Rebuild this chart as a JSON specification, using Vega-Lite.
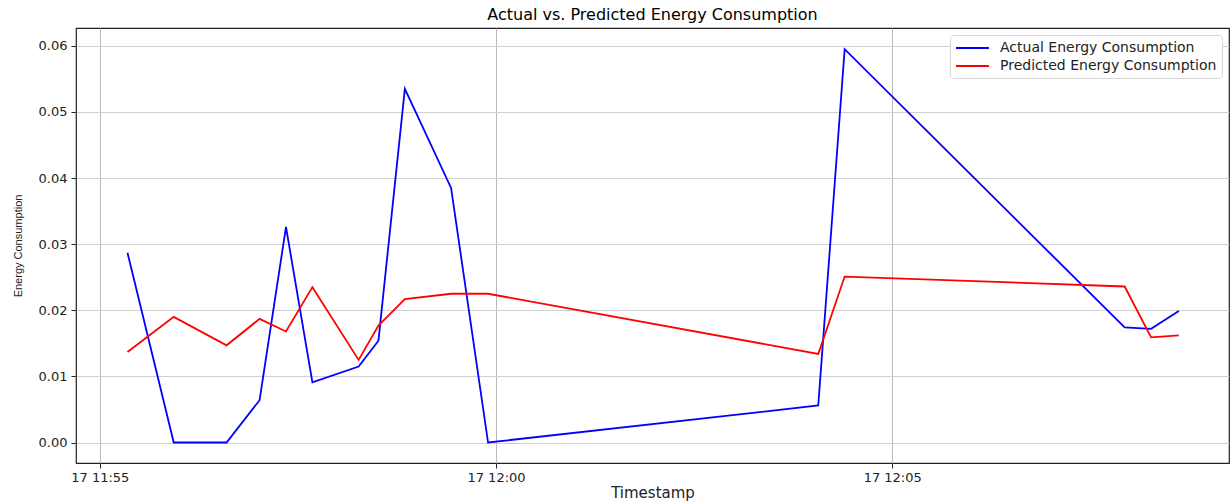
{
  "$schema": "https://vega.github.io/schema/vega-lite/v6.json",
  "autosize": "none",
  "width": 1153,
  "height": 435,
  "padding": {"left": 76, "top": 28, "right": 2, "bottom": 38},
  "background": "white",
  "title": {
    "text": "Actual vs. Predicted Energy Consumption",
    "font": "DejaVu Sans",
    "fontSize": 16,
    "fontWeight": "normal",
    "color": "black",
    "anchor": "middle",
    "offset": 5
  },
  "config": {
    "view": {"stroke": "#222222", "strokeWidth": 1.2},
    "axis": {
      "labelFont": "DejaVu Sans",
      "labelFontSize": 13,
      "labelColor": "#222222",
      "tickColor": "#222222",
      "tickSize": 5,
      "domain": false,
      "gridColor": "#c4c4c4",
      "gridWidth": 1,
      "titleFontWeight": "normal",
      "titleColor": "#222222"
    }
  },
  "data": {
    "values": [
      {"time": "2024-01-17T11:55:21", "series": "Actual Energy Consumption", "value": 0.0287},
      {"time": "2024-01-17T11:55:56", "series": "Actual Energy Consumption", "value": 0.0},
      {"time": "2024-01-17T11:56:36", "series": "Actual Energy Consumption", "value": 0.0},
      {"time": "2024-01-17T11:57:01", "series": "Actual Energy Consumption", "value": 0.0064},
      {"time": "2024-01-17T11:57:21", "series": "Actual Energy Consumption", "value": 0.0326},
      {"time": "2024-01-17T11:57:41", "series": "Actual Energy Consumption", "value": 0.0091},
      {"time": "2024-01-17T11:58:16", "series": "Actual Energy Consumption", "value": 0.0115},
      {"time": "2024-01-17T11:58:31", "series": "Actual Energy Consumption", "value": 0.0154},
      {"time": "2024-01-17T11:58:51", "series": "Actual Energy Consumption", "value": 0.0535},
      {"time": "2024-01-17T11:59:26", "series": "Actual Energy Consumption", "value": 0.0385},
      {"time": "2024-01-17T11:59:54", "series": "Actual Energy Consumption", "value": 0.0},
      {"time": "2024-01-17T12:04:04", "series": "Actual Energy Consumption", "value": 0.0056},
      {"time": "2024-01-17T12:04:24", "series": "Actual Energy Consumption", "value": 0.0595},
      {"time": "2024-01-17T12:07:56", "series": "Actual Energy Consumption", "value": 0.0174},
      {"time": "2024-01-17T12:08:16", "series": "Actual Energy Consumption", "value": 0.0172},
      {"time": "2024-01-17T12:08:37", "series": "Actual Energy Consumption", "value": 0.0199},
      {"time": "2024-01-17T11:55:21", "series": "Predicted Energy Consumption", "value": 0.0137},
      {"time": "2024-01-17T11:55:56", "series": "Predicted Energy Consumption", "value": 0.0190},
      {"time": "2024-01-17T11:56:36", "series": "Predicted Energy Consumption", "value": 0.0147},
      {"time": "2024-01-17T11:57:01", "series": "Predicted Energy Consumption", "value": 0.0187},
      {"time": "2024-01-17T11:57:21", "series": "Predicted Energy Consumption", "value": 0.0168},
      {"time": "2024-01-17T11:57:41", "series": "Predicted Energy Consumption", "value": 0.0235},
      {"time": "2024-01-17T11:58:16", "series": "Predicted Energy Consumption", "value": 0.0125},
      {"time": "2024-01-17T11:58:31", "series": "Predicted Energy Consumption", "value": 0.0177},
      {"time": "2024-01-17T11:58:51", "series": "Predicted Energy Consumption", "value": 0.0217},
      {"time": "2024-01-17T11:59:26", "series": "Predicted Energy Consumption", "value": 0.0225},
      {"time": "2024-01-17T11:59:54", "series": "Predicted Energy Consumption", "value": 0.0225},
      {"time": "2024-01-17T12:04:04", "series": "Predicted Energy Consumption", "value": 0.0134},
      {"time": "2024-01-17T12:04:24", "series": "Predicted Energy Consumption", "value": 0.0251},
      {"time": "2024-01-17T12:07:56", "series": "Predicted Energy Consumption", "value": 0.0236},
      {"time": "2024-01-17T12:08:16", "series": "Predicted Energy Consumption", "value": 0.0159},
      {"time": "2024-01-17T12:08:37", "series": "Predicted Energy Consumption", "value": 0.0162}
    ]
  },
  "mark": {"type": "line", "strokeWidth": 1.8, "clip": true},
  "encoding": {
    "x": {
      "field": "time",
      "type": "temporal",
      "scale": {
        "domain": [
          {"year": 2024, "month": 1, "date": 17, "hours": 11, "minutes": 54, "seconds": 42},
          {"year": 2024, "month": 1, "date": 17, "hours": 12, "minutes": 9, "seconds": 15}
        ]
      },
      "axis": {
        "title": "Timestamp",
        "titleFont": "DejaVu Sans",
        "titleFontSize": 15,
        "titlePadding": 1,
        "format": "%d %H:%M",
        "labelPadding": 3,
        "values": [
          {"year": 2024, "month": 1, "date": 17, "hours": 11, "minutes": 55},
          {"year": 2024, "month": 1, "date": 17, "hours": 12, "minutes": 0},
          {"year": 2024, "month": 1, "date": 17, "hours": 12, "minutes": 5}
        ],
        "grid": true,
        "gridColor": "#b8b8b8"
      }
    },
    "y": {
      "field": "value",
      "type": "quantitative",
      "scale": {"domain": [-0.0031, 0.0627], "nice": false, "zero": false},
      "axis": {
        "title": "Energy Consumption",
        "titleFont": "Liberation Sans",
        "titleFontSize": 11,
        "titlePadding": 15,
        "format": ".2f",
        "values": [0, 0.01, 0.02, 0.03, 0.04, 0.05, 0.06],
        "labelPadding": 4,
        "grid": true,
        "gridColor": "#d0d0d0"
      }
    },
    "color": {
      "field": "series",
      "type": "nominal",
      "scale": {
        "domain": ["Actual Energy Consumption", "Predicted Energy Consumption"],
        "range": ["#0000ff", "#ff0000"]
      },
      "legend": {
        "title": null,
        "orient": "top-right",
        "offset": 7,
        "labelFont": "DejaVu Sans",
        "labelFontSize": 14,
        "labelColor": "#222222",
        "labelLimit": 400,
        "symbolType": "M-1,0H3.7",
        "symbolSize": 196,
        "symbolStrokeWidth": 2,
        "labelOffset": 29,
        "rowPadding": 3,
        "padding": 5,
        "fillColor": "white",
        "strokeColor": "#d8d8d8",
        "cornerRadius": 3
      }
    }
  }
}
